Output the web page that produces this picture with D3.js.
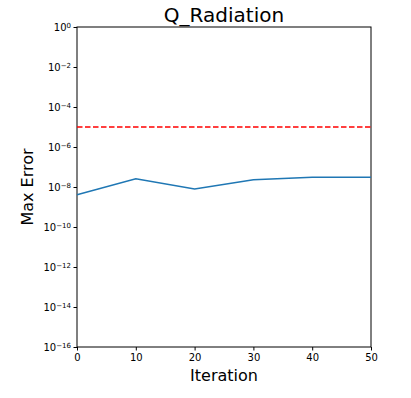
<!doctype html>
<html>
<head>
<meta charset="utf-8">
<title></title>
<style>
body{ margin:0; background:#fff; }
text{ font-family:"DejaVu Sans", sans-serif; }
</style>
</head>
<body>
<svg></svg>
<script src="https://cdn.jsdelivr.net/npm/d3@7"></script>
<script>
var iterations = [0, 10, 20, 30, 40, 50];
var maxError = [4.1e-9, 2.6e-8, 7.9e-9, 2.3e-8, 3.05e-8, 3.05e-8];
var tolerance = 1e-5;
var yTicks = [1e0, 1e-2, 1e-4, 1e-6, 1e-8, 1e-10, 1e-12, 1e-14, 1e-16];
var xTicks = [0, 10, 20, 30, 40, 50];

var width = 411, height = 398;
var margin = {left: 77, right: 40, top: 27, bottom: 51};

var svg = d3.select('svg').attr('width', width).attr('height', height);

var x = d3.scaleLinear().domain([0, 50]).range([margin.left, width - margin.right]);
var y = d3.scaleLog().domain([1e-16, 1]).range([height - margin.bottom, margin.top]);

// x axis
var xAxis = svg.append('g')
    .attr('transform', 'translate(0,' + (height - margin.bottom) + ')')
    .call(d3.axisBottom(x).tickValues(xTicks).tickSize(3.5).tickPadding(3).tickFormat(d3.format('d')));
xAxis.select('.domain').remove();
xAxis.selectAll('text').style('font-size', '10px').attr('fill', '#000');

// y axis, labels done by hand for the superscripts
var yAxis = svg.append('g')
    .attr('transform', 'translate(' + margin.left + ',0)')
    .call(d3.axisLeft(y).tickValues(yTicks).tickSize(3.5).tickFormat(''));
yAxis.select('.domain').remove();
yAxis.selectAll('.tick').each(function(d) {
    var e = Math.round(Math.log10(d));
    var t = d3.select(this).append('text')
        .attr('x', -6).attr('dy', '0.35em')
        .attr('text-anchor', 'end').attr('fill', '#000')
        .style('font-size', '10px');
    t.append('tspan').text('10');
    t.append('tspan').attr('dy', '-0.45em').style('font-size', '7px')
        .text(e === 0 ? '0' : '\u2212' + Math.abs(e));
});

// frame
svg.append('rect')
    .attr('x', margin.left).attr('y', margin.top)
    .attr('width', width - margin.left - margin.right)
    .attr('height', height - margin.top - margin.bottom)
    .attr('fill', 'none').attr('stroke', '#000').attr('stroke-width', 1);

// tolerance line
svg.append('line')
    .attr('x1', x(0)).attr('x2', x(50))
    .attr('y1', y(tolerance)).attr('y2', y(tolerance))
    .attr('stroke', '#ff0000').attr('stroke-width', 1.5)
    .attr('stroke-dasharray', '5.5,2.5');

// error line
var line = d3.line()
    .x(function(d, i) { return x(iterations[i]); })
    .y(function(d) { return y(d); });
svg.append('path')
    .datum(maxError)
    .attr('d', line)
    .attr('fill', 'none')
    .attr('stroke', '#1f77b4')
    .attr('stroke-width', 1.5);

// labels
svg.append('text')
    .attr('x', (margin.left + width - margin.right) / 2).attr('y', 22)
    .attr('text-anchor', 'middle').style('font-size', '20px')
    .text('Q_Radiation');
svg.append('text')
    .attr('x', (margin.left + width - margin.right) / 2).attr('y', 381)
    .attr('text-anchor', 'middle').style('font-size', '16px')
    .text('Iteration');
svg.append('text')
    .attr('transform', 'translate(33,' + ((margin.top + height - margin.bottom) / 2) + ') rotate(-90)')
    .attr('text-anchor', 'middle').style('font-size', '16px')
    .text('Max Error');
</script>
</body>
</html>
